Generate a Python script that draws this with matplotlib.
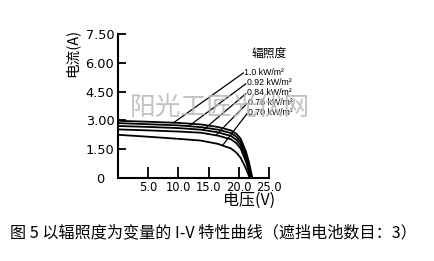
import numpy as np
import matplotlib
matplotlib.use("Agg")
import matplotlib.pyplot as plt

plt.rcParams['font.family'] = ['DejaVu Sans', 'Noto Sans CJK SC']

# I-V curves, one per irradiance level
labels = ['1.0 kW/m²', '0.92 kW/m²', '0.84 kW/m²', '0.76 kW/m²', '0.70 kW/m²']

v_10 = [0, 5, 10, 13.7, 16.5, 18.7, 19.6, 20.3, 21.2, 21.7, 22.25]
i_10 = [2.98, 2.93, 2.87, 2.79, 2.66, 2.48, 2.30, 2.05, 1.36, 0.80, 0]

v_092 = [0, 5, 10, 13.7, 16.5, 18.7, 19.6, 20.3, 21.2, 21.7, 22.15]
i_092 = [2.86, 2.80, 2.74, 2.65, 2.52, 2.34, 2.15, 1.88, 1.19, 0.65, 0]

v_084 = [0, 5, 10, 13.7, 16.5, 18.7, 19.6, 20.3, 21.2, 21.6, 22.05]
i_084 = [2.71, 2.66, 2.60, 2.52, 2.38, 2.19, 1.99, 1.71, 1.02, 0.55, 0]

v_076 = [0, 5, 10, 13.7, 16.5, 18.7, 19.6, 20.3, 21.2, 21.55, 21.95]
i_076 = [2.53, 2.48, 2.42, 2.36, 2.21, 2.02, 1.81, 1.54, 0.84, 0.45, 0]

v_070 = [0, 5, 10, 13.7, 16.5, 18.7, 19.6, 20.3, 21.0, 21.5, 21.8]
i_070 = [2.25, 2.15, 2.04, 1.95, 1.78, 1.54, 1.32, 1.05, 0.62, 0.25, 0]

curves = [(v_10, i_10), (v_092, i_092), (v_084, i_084), (v_076, i_076), (v_070, i_070)]

# leader lines: voltage where each touches its curve, and label anchor
leader_v = [9.2, 11.7, 14.1, 16.2, 17.3]
label_x = [20.9, 21.3, 21.3, 21.5, 21.5]
label_y = [5.52, 4.95, 4.44, 3.93, 3.40]

xticks = [5, 10, 15, 20, 25]
xtick_labels = ['5.0', '10.0', '15.0', '20.0', '25.0']
yticks = [0, 1.5, 3.0, 4.5, 6.0, 7.5]
ytick_labels = ['0', '1.50', '3.00', '4.50', '6.00', '7.50']

fig = plt.figure(figsize=(4.35, 2.61), dpi=100)
ax = fig.add_axes([0.2713, 0.318, 0.3471, 0.5517])

for (v, i) in curves:
    ax.plot(v, i, color='black', lw=1.3, solid_capstyle='butt')

for k, lab in enumerate(labels):
    v, i = curves[k]
    y_end = np.interp(leader_v[k], v, i)
    ax.plot([leader_v[k], label_x[k] - 0.15], [y_end, label_y[k] - 0.05],
            color='black', lw=0.9, clip_on=False)
    ax.text(label_x[k], label_y[k], lab, fontsize=6.3, family='Liberation Sans',
            ha='left', va='center', clip_on=False)

ax.text(25.0, 6.52, '辐照度', fontsize=8.5, family=['Noto Sans CJK SC'],
        ha='center', va='center', clip_on=False)

ax.set_xlim(0, 25)
ax.set_ylim(0, 7.5)
ax.set_xticks(xticks)
ax.set_xticklabels(xtick_labels, fontsize=8.3)
ax.set_yticks(yticks)
ax.set_yticklabels(ytick_labels, fontsize=9.3)
for t in ax.get_yticklabels():
    t.set_horizontalalignment('center')
ax.tick_params(axis='x', direction='in', length=8, width=1.3, pad=2)
ax.tick_params(axis='y', direction='in', length=6, width=1.3, pad=13)
ax.yaxis.get_major_ticks()[0].tick1line.set_visible(False)

ax.spines['top'].set_visible(False)
ax.spines['right'].set_visible(False)
ax.spines['left'].set_linewidth(1.5)
ax.spines['bottom'].set_linewidth(1.5)

ax.text(-0.305, 0.868, '电流(A)', transform=ax.transAxes, rotation=90,
        fontsize=10.5, family=['Noto Sans CJK SC'], ha='center', va='center')
ax.text(0.871, -0.153, '电压(V)', transform=ax.transAxes,
        fontsize=11.5, family=['Noto Sans CJK SC'], ha='center', va='center')

fig.text(0.023, 0.107, '图 5 以辐照度为变量的 I-V 特性曲线（遮挡电池数目：3）',
         fontsize=11.6, family=['Noto Sans CJK SC'], ha='left', va='center')

fig.text(0.506, 0.586, '阳光工匠光伏网', fontsize=18.5, color='#b8b8b8',
         family=['Noto Sans CJK SC'], ha='center', va='center', alpha=0.85)

fig.savefig('out.png', dpi=100)
